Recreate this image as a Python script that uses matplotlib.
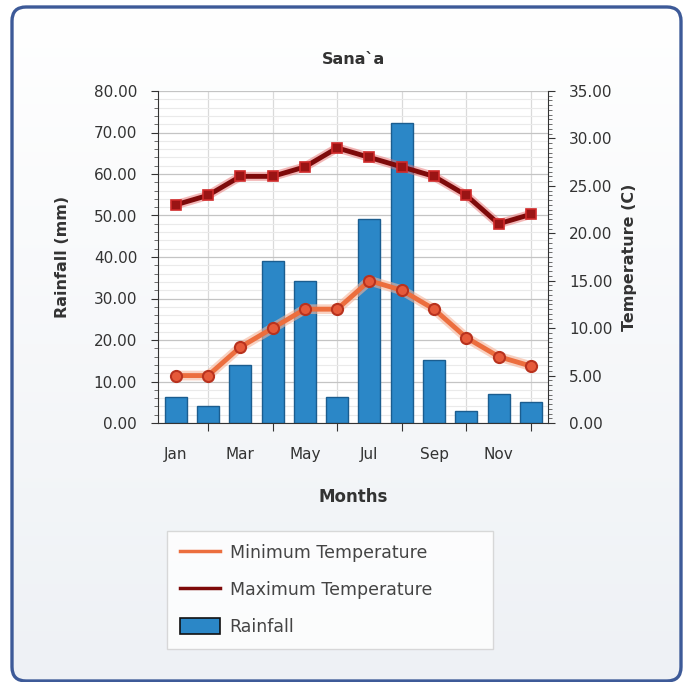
import numpy as np
import matplotlib
matplotlib.use("Agg")
import matplotlib.pyplot as plt
from matplotlib.patches import FancyBboxPatch, Patch
from matplotlib.lines import Line2D
from matplotlib.ticker import MultipleLocator, FormatStrFormatter

months = ["Jan", "Feb", "Mar", "Apr", "May", "Jun",
          "Jul", "Aug", "Sep", "Oct", "Nov", "Dec"]
rainfall = [6.2, 4.0, 14.0, 39.0, 34.2, 6.2, 49.2, 72.3, 15.2, 3.0, 7.0, 5.0]
min_temp = [5, 5, 8, 10, 12, 12, 15, 14, 12, 9, 7, 6]
max_temp = [23, 24, 26, 26, 27, 29, 28, 27, 26, 24, 21, 22]

W, H = 687, 682
fig = plt.figure(figsize=(W / 100, H / 100), dpi=100)
fig.patch.set_facecolor("white")

# background with rounded blue frame
bg = fig.add_axes([0, 0, 1, 1])
bg.set_xlim(0, W)
bg.set_ylim(H, 0)
bg.axis("off")
grad = np.linspace(0, 1, 256).reshape(-1, 1)
img = bg.imshow(grad, extent=(12, 681, 681, 7), cmap=matplotlib.colors.LinearSegmentedColormap.from_list(
    "g", ["#ffffff", "#eef1f5"]), aspect="auto", zorder=0)
frame = FancyBboxPatch((12, 7), 669, 674, boxstyle="round,pad=0,rounding_size=14",
                       facecolor="none", edgecolor="#3d5a98", linewidth=2.4, zorder=2)
bg.add_patch(frame)
img.set_clip_path(frame)

text_col = "#333333"
x = np.arange(len(months))

ax = fig.add_axes([158 / W, 1 - 423 / H, 390 / W, 332 / H])
ax.set_facecolor("white")
ax.bar(x, rainfall, width=0.68, color="#2b87c7", edgecolor="#1b5d8f", linewidth=1.0, zorder=2)
ax.set_xlim(-0.55, 11.53)
ax.set_ylim(0, 80)
ax.yaxis.set_major_locator(MultipleLocator(10))
ax.yaxis.set_minor_locator(MultipleLocator(2))
ax.yaxis.set_major_formatter(FormatStrFormatter("%.2f"))
ax.grid(True, which="major", axis="y", color="#c4c4c4", linewidth=0.9, zorder=0)
ax.grid(True, which="minor", axis="y", color="#eaeaea", linewidth=0.8, zorder=0)

# ticks between labelled months, labels on every other month
ax.set_xticks(x[1::2])
ax.set_xticklabels([])
ax.set_xticks(x[0::2], minor=True)
ax.set_xticklabels(months[0::2], minor=True)
ax.grid(True, which="major", axis="x", color="#dadada", linewidth=0.9, zorder=0)
ax.tick_params(axis="x", which="major", length=6, color="#333333")
ax.tick_params(axis="x", which="minor", length=0, pad=17, labelsize=11, labelcolor=text_col)
ax.tick_params(axis="y", which="major", length=5, pad=10, labelsize=11, labelcolor=text_col, color="#333333")
ax.tick_params(axis="y", which="minor", length=3, color="#555555")
for s in ["top", "right"]:
    ax.spines[s].set_visible(False)
ax.spines["left"].set_color("#333333")
ax.spines["bottom"].set_color("#333333")
ax.set_axisbelow(True)

ax.set_ylabel("Rainfall (mm)", fontsize=11.5, fontweight="bold", color=text_col)
ax.yaxis.set_label_coords(-0.226, 0.5)
ax.set_xlabel("Months", fontsize=12, fontweight="bold", color=text_col)
ax.xaxis.set_label_coords(0.5, -0.195)

ax2 = ax.twinx()
ax2.set_ylim(0, 35)
ax2.yaxis.set_major_locator(MultipleLocator(5))
ax2.yaxis.set_minor_locator(MultipleLocator(0.5))
ax2.yaxis.set_major_formatter(FormatStrFormatter("%.2f"))
ax2.tick_params(axis="y", which="major", length=5, pad=10, labelsize=11, labelcolor=text_col, color="#333333")
ax2.tick_params(axis="y", which="minor", length=3, color="#555555")
for s in ["top", "left", "bottom"]:
    ax2.spines[s].set_visible(False)
ax2.spines["right"].set_color("#333333")

# glow + lines
ax2.plot(x, min_temp, color="#f5b49a", linewidth=7, alpha=0.6, zorder=3, solid_capstyle="round")
ax2.plot(x, min_temp, color="#ec6e3e", linewidth=3.5, zorder=4,
         marker="o", markersize=8, markerfacecolor="#e65a3a", markeredgecolor="#b8321e", markeredgewidth=1.5)
ax2.plot(x, max_temp, color="#e87070", linewidth=6.5, alpha=0.5, zorder=3)
ax2.plot(x, max_temp, color="#7e0a0a", linewidth=3.5, zorder=4,
         marker="s", markersize=7, markerfacecolor="#9a1414", markeredgecolor="#d02a2a", markeredgewidth=1.2)
ax2.set_ylabel("Temperature (C)", fontsize=11.5, fontweight="bold", color=text_col)
ax2.yaxis.set_label_coords(1.19, 0.5)

fig.text(353 / W, 1 - 60 / H, "Sana`a", ha="center", va="center",
         fontsize=11.5, fontweight="bold", color=text_col)

handles = [
    Line2D([], [], color="#ec6e3e", linewidth=2.5),
    Line2D([], [], color="#7e0a0a", linewidth=2.5),
    Patch(facecolor="#2b87c7", edgecolor="#111111", linewidth=1.2),
]
labels = ["Minimum Temperature", "Maximum Temperature", "Rainfall"]
leg = fig.legend(handles, labels, loc="upper left",
                 bbox_to_anchor=(167 / W, 1 - 650 / H, 326 / W, 119 / H), mode="expand",
                 borderaxespad=0, fontsize=12.5, frameon=True, fancybox=False, handlelength=2.3,
                 handleheight=1.1, handletextpad=0.55, labelspacing=1.07, borderpad=0.75)
leg.get_frame().set_edgecolor("#d0d0d0")
leg.get_frame().set_facecolor("white")
leg.get_frame().set_linewidth(1.0)
for t in leg.get_texts():
    t.set_color("#444444")

fig.savefig("out.png", dpi=100)
